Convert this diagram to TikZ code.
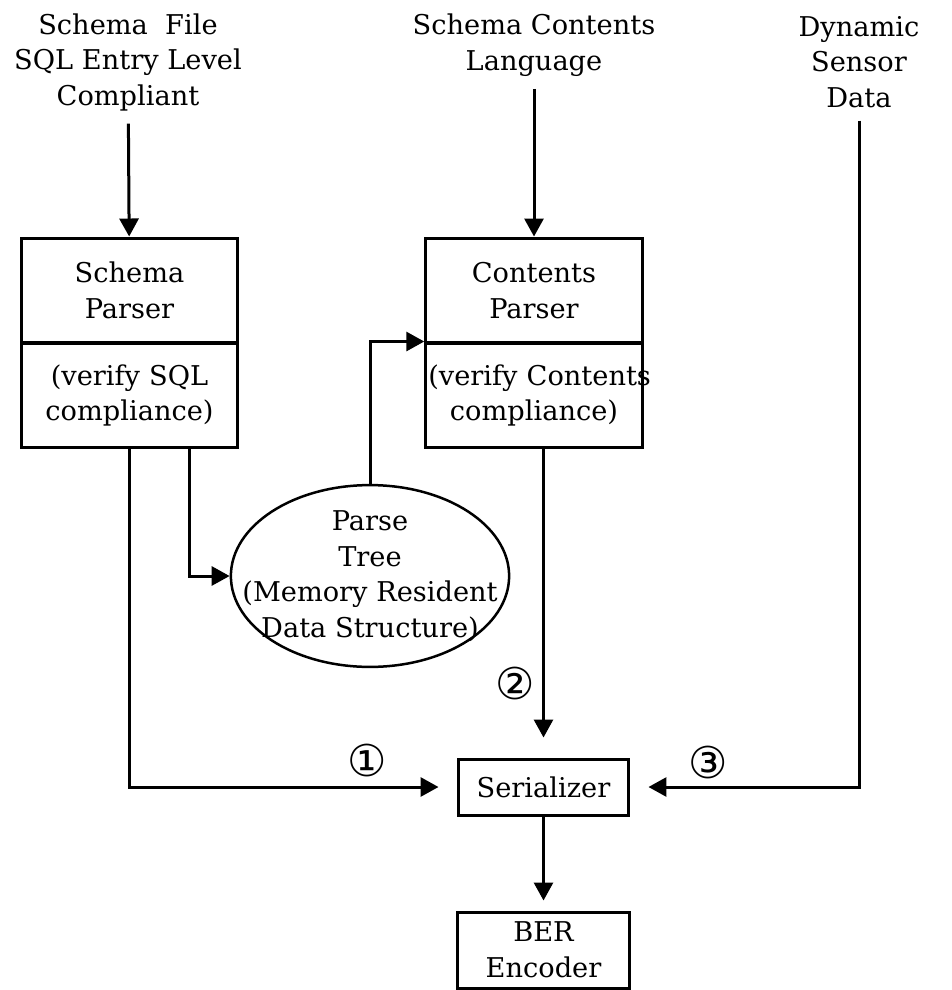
\documentclass[tikz,border=0pt]{standalone}
\usepackage{fontspec}
\setmainfont{DejaVu Serif}
\newfontfamily\circfont{DejaVu Sans}
\usetikzlibrary{arrows.meta,shapes.geometric}

\begin{document}
\begin{tikzpicture}[x=0.02cm,y=-0.02cm,
    font=\fontsize{15.5}{20.2}\selectfont]
  \tikzset{
    flow/.style={-{Triangle[length=0.36cm,width=0.38cm]},line width=0.06cm},
    src/.style={align=center,inner sep=0.25cm},
    parsebox/.style={draw,line width=0.06cm,align=center,text width=4.23cm,
      inner sep=0.05cm,minimum height=2.1cm},
    smallbox/.style={draw,line width=0.06cm,align=center,inner sep=0},
    treenode/.style={draw,ellipse,line width=0.05cm,align=center,
      inner xsep=-0.585cm,inner ysep=-0.02cm},
    tag/.style={font=\circfont\fontsize{25}{25}\selectfont,inner sep=0},
  }
  \useasboundingbox (0,0) rectangle (951,990);
  % inputs
  \node[src] (srcSchema)   at (128,62) {Schema~ File\\SQL Entry Level\\Compliant};
  \node[src] (srcContents) at (534,45) {Schema Contents\\Language};
  \node[src] (srcSensor)   at (859,62) {Dynamic\\Sensor\\Data};
  % parsers
  \node[parsebox] (schemaTop) at (129.5,290.5) {Schema\\Parser};
  \node[parsebox] (schemaBot) at (129.5,395.5) {(verify SQL\\compliance)};
  \node[parsebox] (contTop)   at (534,290.5) {Contents\\Parser};
  \node[parsebox] (contBot)   at (534,395.5) {\mbox{(verify Contents}\\compliance)};
  \node[treenode] (tree) at (370,576) {Parse\\Tree\\(Memory Resident\\Data Structure)};
  % output chain
  \node[smallbox,minimum width=3.42cm,minimum height=1.12cm] (serial) at (543.5,787) {Serializer};
  \node[smallbox,minimum width=3.46cm,minimum height=1.52cm] (ber) at (543.5,950) {BER\\Encoder};
  \node[tag] (one)   at (367,760) {①};
  \node[tag] (two)   at (515,683) {②};
  \node[tag] (three) at (708,762) {③};

  \draw[flow] (srcSchema) -- (schemaTop);
  \draw[flow] (srcContents) -- (contTop);
  \draw[flow] ([xshift=1.21cm]schemaBot.south) |- (tree);
  \draw[flow] (tree) |- (contBot.north west);
  \draw[flow,shorten >=0.36cm] (schemaBot.south) |- (serial);
  \draw[flow,shorten >=0.4cm] (contBot.south -| serial.north) -- (serial.north);
  \draw[flow,shorten >=0.36cm] (srcSensor) |- (serial);
  \draw[flow,shorten >=0.2cm] (serial) -- (ber);
\end{tikzpicture}
\end{document}
